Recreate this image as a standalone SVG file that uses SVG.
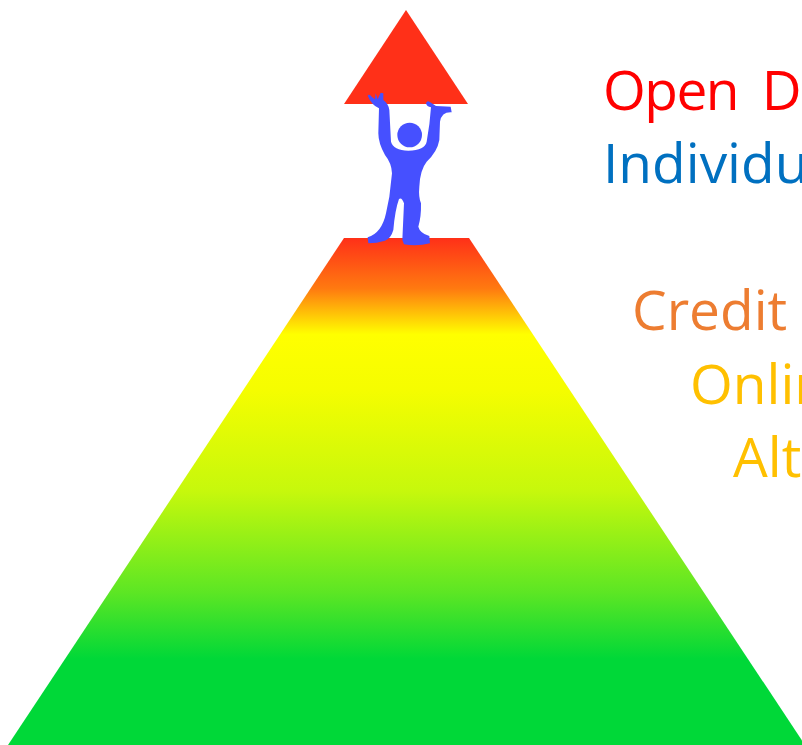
<svg xmlns="http://www.w3.org/2000/svg" width="802" height="745" viewBox="0 0 802 745">
<style>
text{font-family:"Open Sans","Noto Sans","Liberation Sans",sans-serif;font-size:55px}
</style>
<defs>
<linearGradient id="g" gradientUnits="userSpaceOnUse" x1="0" y1="238" x2="0" y2="745">
<stop offset="0" stop-color="#ff3018"/>
<stop offset="0.1" stop-color="#ff7a10"/>
<stop offset="0.19" stop-color="#ffff00"/>
<stop offset="0.3" stop-color="#f5fd00"/>
<stop offset="0.5" stop-color="#c6f80c"/>
<stop offset="0.7" stop-color="#5ce624"/>
<stop offset="0.83" stop-color="#00d838"/>
<stop offset="1" stop-color="#00d838"/>
</linearGradient>
</defs>
<rect width="802" height="745" fill="#fff"/>
<polygon id="top" points="406,10 344,104 468,104" fill="#ff3018"/>
<polygon id="base" points="344,238 469,238 805,745 8,745" fill="url(#g)"/>
<g id="figure" transform="translate(330 0) scale(.33333)" fill="#4650ff">
<path d="M113 287Q118 280 125 290L135 298L137 280L143 298L152 278L160 280L160 300Q175 310 178 330L183 425Q190 450 235 452Q285 450 290 425Q300 370 303 322Q290 320 288 310Q292 298 303 308L318 318L362 320L365 337Q335 335 330 365L328 420Q322 455 290 485Q270 510 268 560Q265 590 273 610Q274 650 265 680Q270 700 298 708L300 730Q260 740 222 733L217 720L222 610Q215 590 207 597Q195 630 190 690Q183 715 165 722Q140 730 115 730L113 712Q155 700 168 640L178 590L186 520Q185 490 165 465Q145 430 145 400L147 325Q125 315 113 287Z"/>
<circle cx="239" cy="405" r="37"/>
</g>
<g id="labels">
<text x="603" y="110" fill="#ff0000" letter-spacing="-1.5" word-spacing="11">Open D</text>
<text x="603" y="183" fill="#0070c0">Individu</text>
<text x="632" y="330" fill="#ed7d31">Credit</text>
<text x="690" y="404" fill="#ffc000">Onlin</text>
<text x="733" y="477" fill="#ffc000">Alt</text>
</g>
</svg>
